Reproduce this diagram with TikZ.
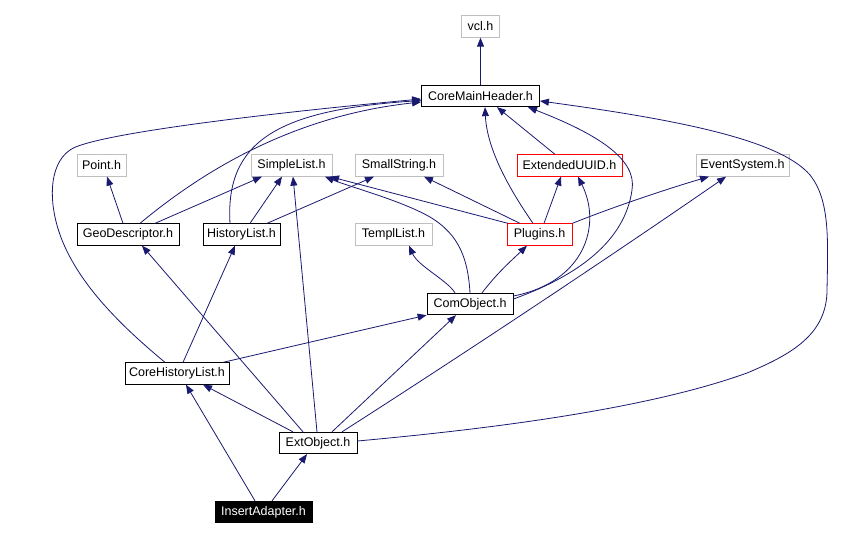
\documentclass[tikz,border=0pt]{standalone}
\usepackage{fontspec}
\setmainfont{Liberation Sans}
\usetikzlibrary{arrows.meta}
\definecolor{edgeblue}{HTML}{191970}
\definecolor{boxgray}{HTML}{BFBFBF}
\tikzset{
  hdr/.style={draw, rectangle, inner sep=0pt, minimum height=21.5pt, line width=0.8pt,
    font=\fontsize{12.5}{14}\selectfont, anchor=center},
  extbox/.style={hdr, draw=boxgray},
  blkbox/.style={hdr, draw=black},
  redbox/.style={hdr, draw=red},
  rootbox/.style={hdr, draw=black, fill=black, text=white},
  dep/.style={draw=edgeblue, line width=0.8pt, -{Triangle[length=9pt,width=7pt]}}
}
\begin{document}
\begin{tikzpicture}[x=1pt,y=-1pt]
\useasboundingbox (0,0) rectangle (845,540);
% nodes
\node[extbox, minimum width=38pt]  (vcl)   at (480.5,26.5) {vcl.h};
\node[blkbox, minimum width=118pt] (cmh)   at (480.5,96)   {CoreMainHeader.h};
\node[extbox, minimum width=49pt]  (point) at (101.5,165.5) {Point.h};
\node[extbox, minimum width=81pt]  (sl)    at (291.5,165.5) {SimpleList.h};
\node[extbox, minimum width=88pt]  (ss)    at (399,165.5) {SmallString.h};
\node[redbox, minimum width=105pt] (eu)    at (569.5,165.5) {ExtendedUUID.h};
\node[extbox, minimum width=93pt]  (ev)    at (742.5,165.5) {EventSystem.h};
\node[blkbox, minimum width=102pt] (geo)   at (128,234.5) {GeoDescriptor.h};
\node[blkbox, minimum width=77pt]  (hl)    at (241.5,234.5) {HistoryList.h};
\node[extbox, minimum width=77pt]  (tl)    at (393.5,234.5) {TemplList.h};
\node[redbox, minimum width=65pt]  (pl)    at (539.5,234.5) {Plugins.h};
\node[blkbox, minimum width=86pt]  (com)   at (470,304) {ComObject.h};
\node[blkbox, minimum width=104pt] (chl)   at (177,373.5) {CoreHistoryList.h};
\node[blkbox, minimum width=78pt]  (ext)   at (318,443) {ExtObject.h};
\node[rootbox, minimum width=97pt] (ia)    at (263.5,512) {InsertAdapter.h};
% edges
\draw[dep] (cmh.north) -- (vcl.south);
\draw[dep] ([xshift=-5pt]geo.north) -- ([xshift=5.5pt]point.south);
\draw[dep] ([xshift=27pt]geo.north) -- ([xshift=-29.5pt]sl.south);
\draw[dep] ([xshift=12pt]geo.north) .. controls (210,165) and (300,115) .. ([yshift=-6pt]cmh.west);
\draw[dep] ([xshift=8.5pt]hl.north) -- ([xshift=-9.5pt]sl.south);
\draw[dep] ([xshift=25.5pt]hl.north) -- ([xshift=-25pt]ss.south);
\draw[dep] ([xshift=-11.5pt]hl.north) .. controls (225,140) and (280,110) .. ([yshift=-4.5pt]cmh.west);
\draw[dep] ([xshift=-31.5pt]pl.north) -- ([xshift=38.5pt]sl.south);
\draw[dep] ([xshift=-19.5pt]pl.north) -- ([xshift=25pt]ss.south);
\draw[dep] ([xshift=4.5pt]pl.north) -- ([xshift=-8.5pt]eu.south);
\draw[dep] (pl.north east) .. controls (610,208) and (670,188) .. ([xshift=-33.5pt]ev.south);
\draw[dep] ([xshift=-6.5pt]pl.north) .. controls (510,190) and (487,150) .. ([xshift=4.5pt]cmh.south);
\draw[dep] ([xshift=-14.5pt]eu.north) -- ([xshift=16.5pt]cmh.south);
\draw[dep] ([xshift=-15pt]com.north) .. controls (447,280) and (418,266) .. ([xshift=15.5pt]tl.south);
\draw[dep] ([xshift=12pt]com.north) .. controls (498,272) and (512,260) .. ([xshift=-12.5pt]pl.south);
\draw[dep] (com.north) .. controls (468,260) and (460,235) .. (430,217)
                       .. controls (400,200) and (350,187) .. ([xshift=33.5pt]sl.south);
\draw[dep] ([yshift=8pt]com.east) .. controls (585,282) and (602,225) .. ([xshift=8.5pt]eu.south);
\draw[dep] ([yshift=5pt]com.east) .. controls (580,275) and (625,240) .. (632,190)
                                  .. controls (637,160) and (600,135) .. ([xshift=47.5pt]cmh.south);
\draw[dep] ([xshift=6pt]chl.north) -- ([xshift=-6.5pt]hl.south);
\draw[dep] ([xshift=46pt]chl.north) -- (com.south west);
\draw[dep] ([xshift=-12pt]chl.north) .. controls (120,325) and (80,285) .. (62,240)
                                     .. controls (48,205) and (48,165) .. (70,150)
                                     .. controls (90,135) and (250,115) .. ([yshift=-3pt]cmh.west);
\draw[dep] ([xshift=-25pt]ext.north) -- ([xshift=26pt]chl.south);
\draw[dep] ([xshift=-15pt]ext.north) -- ([xshift=14pt]geo.south);
\draw[dep] ([xshift=-1pt]ext.north) -- ([xshift=1.5pt]sl.south);
\draw[dep] ([xshift=14pt]ext.north) -- ([xshift=-14pt]com.south);
\draw[dep] ([xshift=24pt]ext.north) .. controls (470,350) and (620,250) .. ([xshift=-16.5pt]ev.south);
\draw[dep] ([yshift=2pt]ext.east) .. controls (500,428) and (650,408) .. (747,373)
                                  .. controls (790,355) and (827,335) .. (827,290)
                                  .. controls (828,240) and (830,200) .. (810,175)
                                  .. controls (780,140) and (680,120) .. ([yshift=-5pt]cmh.east);
\draw[dep] ([xshift=-8.5pt]ia.north) -- ([xshift=9pt]chl.south);
\draw[dep] ([xshift=8.5pt]ia.north) -- ([xshift=-11pt]ext.south);
\end{tikzpicture}
\end{document}
